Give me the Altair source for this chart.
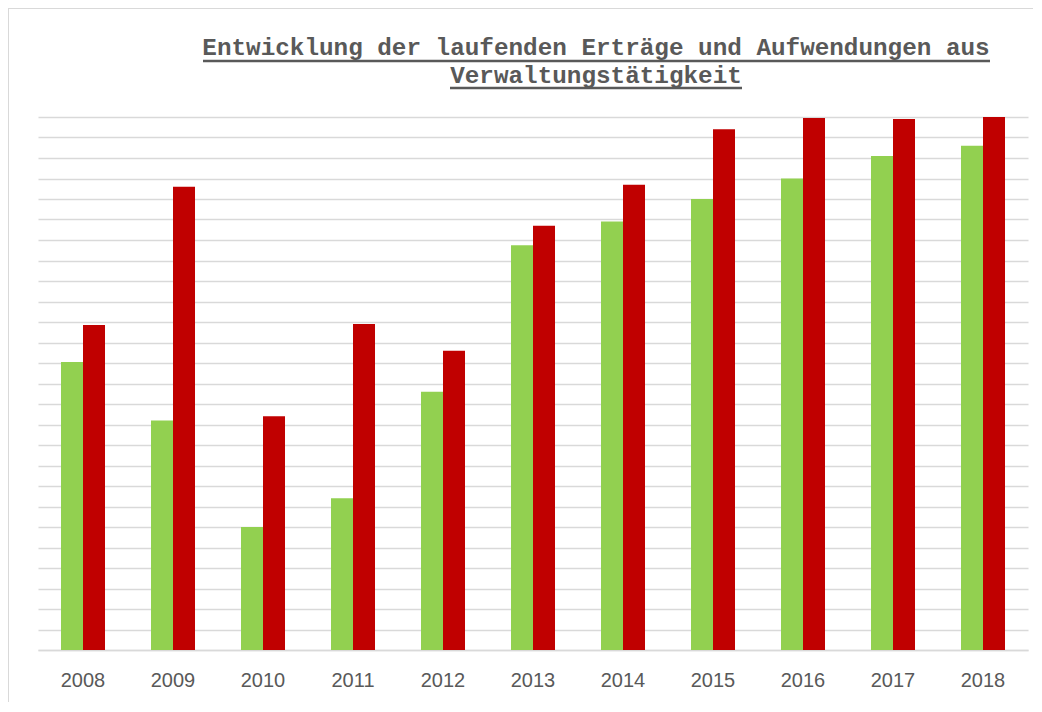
import altair as alt
import pandas as pd

jahre = ["2008", "2009", "2010", "2011", "2012", "2013", "2014", "2015", "2016", "2017", "2018"]
ertraege = [14.05, 11.2, 6.0, 7.4, 12.6, 19.75, 20.9, 22.0, 23.0, 24.1, 24.6]
aufwendungen = [15.85, 22.6, 11.4, 15.9, 14.6, 20.7, 22.7, 25.4, 25.95, 25.9, 26.0]
serien = ["Erträge", "Aufwendungen"]
farben = ["#92D050", "#C00000"]
titel_zeilen = ["Entwicklung der laufenden Erträge und Aufwendungen aus", "Verwaltungstätigkeit"]

rows = []
for j, e, a in zip(jahre, ertraege, aufwendungen):
    rows.append({"Jahr": j, "Serie": serien[0], "Wert": e})
    rows.append({"Jahr": j, "Serie": serien[1], "Wert": a})
df = pd.DataFrame(rows)

bars = alt.Chart(df).mark_bar().encode(
    x=alt.X("Jahr:N", sort=jahre,
            scale=alt.Scale(paddingInner=0.511, paddingOuter=0.2555),
            axis=alt.Axis(title=None, labelAngle=0, ticks=False, tickSize=0,
                          labelPadding=20, labelFont="Liberation Sans",
                          labelFontSize=20, labelColor="#595959",
                          domainColor="#d9d9d9", domainWidth=1.5, grid=False)),
    xOffset=alt.XOffset("Serie:N", sort=serien, scale=alt.Scale(paddingInner=0, paddingOuter=0)),
    y=alt.Y("Wert:Q", scale=alt.Scale(domain=[0, 26], nice=False, zero=True),
            axis=alt.Axis(values=list(range(27)), labels=False, ticks=False,
                          domain=False, title=None, gridColor="#d9d9d9", gridWidth=1.5)),
    color=alt.Color("Serie:N", sort=serien,
                    scale=alt.Scale(domain=serien, range=farben), legend=None),
)

one = alt.Data(values=[{"a": 1}])

t1 = alt.Chart(one).mark_text(
    text=titel_zeilen[0], font="Liberation Mono", fontSize=24.3, fontWeight="bold",
    color="#595959", align="center", baseline="alphabetic"
).encode(x=alt.value(558), y=alt.value(-62))

t2 = alt.Chart(one).mark_text(
    text=titel_zeilen[1], font="Liberation Mono", fontSize=24.3, fontWeight="bold",
    color="#595959", align="center", baseline="alphabetic"
).encode(x=alt.value(558), y=alt.value(-34))

u1 = alt.Chart(one).mark_rule(color="#595959", strokeWidth=2.5).encode(
    x=alt.value(165), x2=alt.value(952), y=alt.value(-56))
u2 = alt.Chart(one).mark_rule(color="#595959", strokeWidth=2.5).encode(
    x=alt.value(412), x2=alt.value(704), y=alt.value(-29))

b_top = alt.Chart(one).mark_rule(color="#d9d9d9", strokeWidth=2).encode(
    x=alt.value(-30), x2=alt.value(1010), y=alt.value(-109))
b_left = alt.Chart(one).mark_rule(color="#d9d9d9", strokeWidth=2).encode(
    x=alt.value(-30), y=alt.value(-109), y2=alt.value(600))

chart = alt.layer(bars, t1, t2, u1, u2, b_top, b_left).properties(
    width=990, height=533,
    autosize=alt.AutoSizeParams(type="none"),
    padding={"left": 30, "top": 109, "right": 5, "bottom": 52},
    background="white",
).configure_view(stroke=None)

chart.save("out.html", embed_options={"renderer": "svg", "actions": False})
